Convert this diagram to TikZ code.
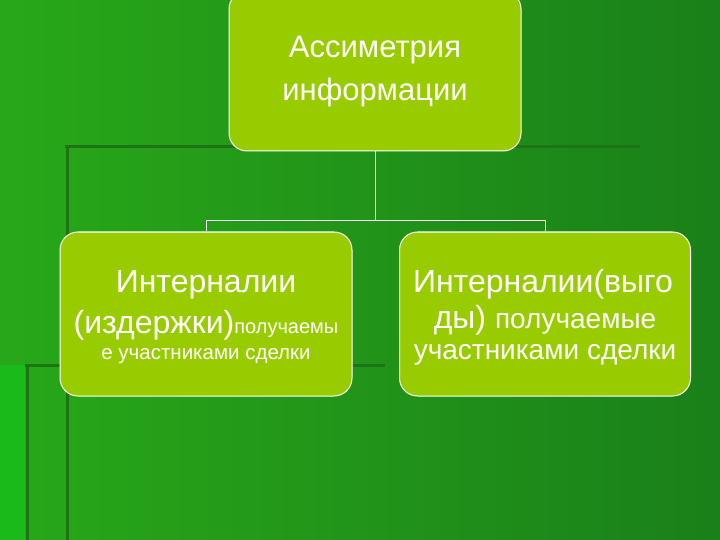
\documentclass[tikz,border=0pt]{standalone}
\usepackage{fontspec}
\setmainfont{Liberation Sans}
\begin{document}
\begin{tikzpicture}[x=1pt,y=-1pt,
  box/.style={draw=white,line width=1pt,fill=boxg,rounded corners=18pt},
  lbl/.style={text=white,inner sep=0pt},
  conn/.style={draw=white,line width=1pt},
  deco/.style={line width=3pt,draw=darkg}]
\definecolor{boxg}{HTML}{99CC00}
\definecolor{darkg}{HTML}{1E7414}
\definecolor{bgl}{HTML}{28A818}
\definecolor{bgr}{HTML}{1A801A}
\useasboundingbox (0,0) rectangle (720,540);
\shade[left color=bgl,right color=bgr] (0,0) rectangle (720,540);
\fill[green!70!black!90] (0,365) rectangle (25,540);
\draw[deco] (65,147) -- (640,147);
\draw[deco] (67,147) -- (67,540);
\draw[deco] (25,365) -- (385,365);
\draw[deco] (27,365) -- (27,540);
\node[box,minimum width=292pt,minimum height=160pt] (top) at (375,71) {};
\node[lbl,font=\fontsize{31}{33}\selectfont] (t1) at (375,50) {Ассиметрия};
\node[lbl,font=\fontsize{31}{33}\selectfont] (t2) at (375,92) {информации};
\node[box,minimum width=292pt,minimum height=164pt] (l) at (206,314) {};
\node[lbl,font=\fontsize{32}{34}\selectfont] (l1) at (206,285) {Интерналии};
\node[lbl] (l2) at (206,325) {\fontsize{32}{34}\selectfont (издержки)\fontsize{20}{22}\selectfont получаемы};
\node[lbl,font=\fontsize{20.5}{22}\selectfont] (l3) at (206,356) {е участниками сделки};
\node[box,minimum width=291pt,minimum height=164pt] (r) at (545,314) {};
\node[lbl,font=\fontsize{32}{34}\selectfont] (r1) at (543,284) {Интерналии(выго};
\node[lbl] (r2) at (545,320) {\fontsize{32}{34}\selectfont ды) \fontsize{28}{30}\selectfont получаемые};
\node[lbl,font=\fontsize{28}{30}\selectfont] (r3) at (545,355) {участниками сделки};
\coordinate (j) at (375,221);
\draw[conn] (top.south) -- (j);
\draw[conn] (j) -| (l.north);
\draw[conn] (j) -| (r.north);
\end{tikzpicture}
\end{document}
